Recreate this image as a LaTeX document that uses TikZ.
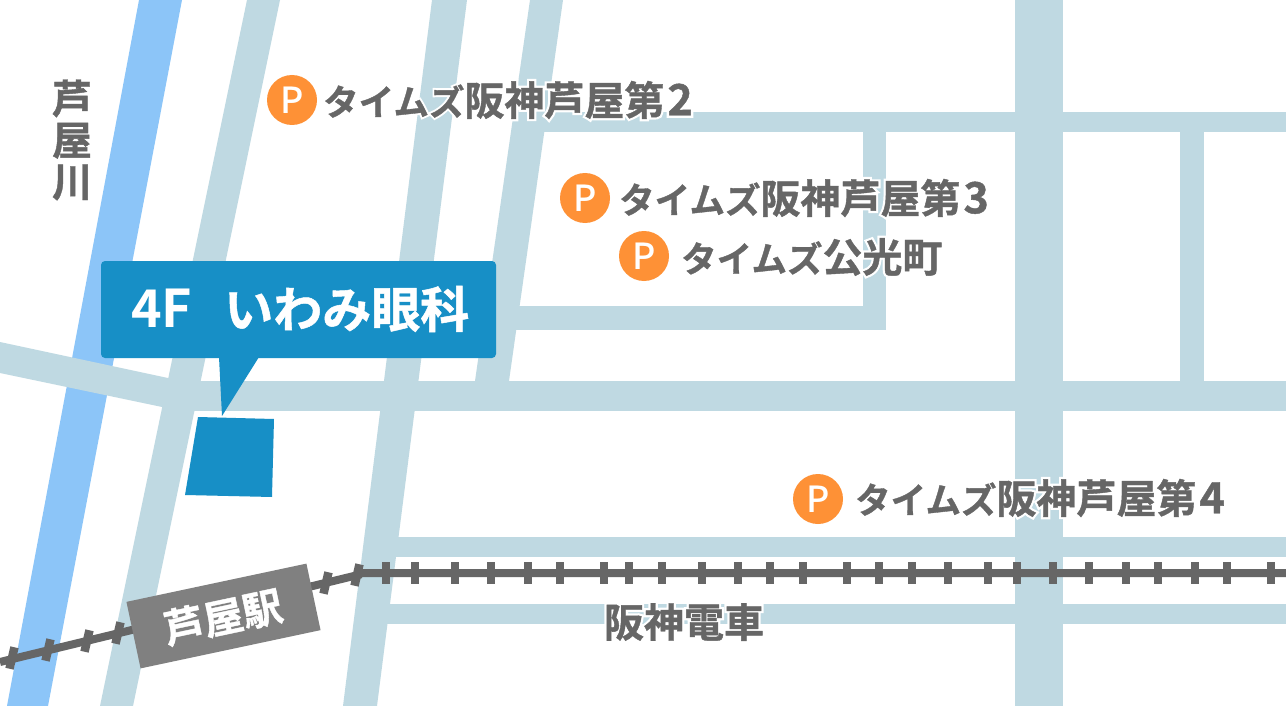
\documentclass[tikz,border=0pt]{standalone}
\usepackage{fontspec}
\newfontfamily\cjk[FakeBold=1]{Noto Sans CJK JP Bold}
\newfontfamily\cjkhalo[FakeBold=12]{Noto Sans CJK JP Bold}
\newfontfamily\cjkplain{Noto Sans CJK JP Bold}
\newfontfamily\cjkthin{Noto Sans CJK JP Medium}
\definecolor{roadcol}{HTML}{BFD9E2}
\definecolor{rivercol}{HTML}{8CC5F8}
\definecolor{clinic}{HTML}{178FC6}
\definecolor{parkcol}{HTML}{FE9136}
\definecolor{inkcol}{HTML}{666666}
\definecolor{stationcol}{HTML}{808080}
\tikzset{
	road/.style={fill=roadcol,draw=none},
	tie/.style={inkcol,line width=8.5pt},
	park/.style={circle,fill=parkcol,text=white,inner sep=0,outer sep=0,minimum size=50pt,font=\cjkthin\fontsize{36}{36}\selectfont},
	parktext/.style={text=inkcol,inner sep=0,anchor=west,font=\cjk\fontsize{40}{40}\selectfont},
	parkhalo/.style={text=white,inner sep=0,anchor=west,font=\cjkhalo\fontsize{40}{40}\selectfont},
}
\newcommand{\kana}{{\fontsize{35.5}{36}\selectfont タイムズ}}
\newcommand{\hanshin}[1]{\kana 阪神芦屋第\hspace{3pt}{\fontsize{43}{43}\selectfont #1}}
\begin{document}
\begin{tikzpicture}[x=1pt,y=-1pt]
	\useasboundingbox (0,0) rectangle (1286,706);
	\fill[white] (0,0) rectangle (1286,706);
	\fill[rivercol] (139,0) -- (182,0) -- (48,706) -- (7,706) -- cycle;
	\fill[road] (0,342) -- (180,380.6) -- (175,409.7) -- (0,373) -- cycle;
	\fill[road] (247,0) -- (280,0) -- (133,706) -- (100,706) -- cycle;
	\fill[road] (432,0) -- (467,0) -- (377,706) -- (343,706) -- cycle;
	\fill[road] (530,0) -- (563,0) -- (509,381) -- (475,381) -- cycle;
	\fill[road] (175,381) rectangle (1286,411);
	\fill[road] (535,112) rectangle (1286,132);
	\fill[road] (510,306) rectangle (886,330);
	\fill[road] (863,132) rectangle (886,330);
	\fill[road] (1015,0) rectangle (1063,706);
	\fill[road] (1180,132) rectangle (1204,381);
	\fill[road] (390,537) rectangle (1286,557);
	\fill[road] (380,604) rectangle (1286,624);
	\fill[clinic] (198,417) -- (274,419) -- (272,497) -- (185,495) -- cycle;
	\node[fill=clinic,rounded corners=4pt,inner sep=0,minimum width=395pt,minimum height=97pt] (callout) at (298.5,309.5) {};
	\fill[clinic] (219,357) -- (259,357) -- (222,416) -- cycle;
	\node[text=white,inner sep=0,anchor=west,font=\cjk\fontsize{49}{49}\selectfont] (clinicname) at (131,309) {{\cjkplain\fontsize{52}{52}\selectfont 4F}\hspace{32pt}いわみ眼科};
	\coordinate (railleft) at (0,662);
	\coordinate (railbend) at (358,575);
	\coordinate (railright) at (1286,573);
	\draw[inkcol,line width=8pt] (railleft) -- (railbend) -- (358,573) -- (railright);
	\foreach \x/\y in {12/658,48/650,87/641,118/633,326/583,357/575}
		\draw[tie,rotate around={-13:(\x,\y)}] (\x,\y-11) -- (\x,\y+11);
	\foreach \x in {386,415,455,491,528,560,604,629,662,702,738,770,803,847,879,912,948,988,1017,1053,1089,1126,1158,1195,1227,1271}
		\draw[tie] (\x,562) -- (\x,584);
	\node[fill=stationcol,rotate=12,inner sep=0,minimum width=184pt,minimum height=68pt] (station) at (223.5,616) {};
	\node[text=white,rotate=12,inner sep=0,font=\cjk\fontsize{40}{40}\selectfont] (stationname) at (223,617) {芦屋駅};
	\node[text=inkcol,inner sep=0,align=center,font=\cjk\fontsize{40}{41.5}\selectfont] (river) at (72,140) {芦\\屋\\川};
	\node[park] (p2) at (292,100) {P};
	\node[park] (p3) at (585,198) {P};
	\node[park] (p4) at (644,256) {P};
	\node[park] (p5) at (818,499) {P};
	\node[parkhalo] (h2) at (323,100) {\hanshin{2}};
	\node[parkhalo] (h3) at (619,198) {\hanshin{3}};
	\node[parkhalo] (h4) at (681,257) {\kana 公光町};
	\node[parkhalo] (h5) at (855,498) {\hanshin{4}};
	\node[parkhalo,anchor=center] (h6) at (684,622) {阪神電車};
	\node[parktext] (t2) at (323,100) {\hanshin{2}};
	\node[parktext] (t3) at (619,198) {\hanshin{3}};
	\node[parktext] (t4) at (681,257) {\kana 公光町};
	\node[parktext] (t5) at (855,498) {\hanshin{4}};
	\node[parktext,anchor=center] (t6) at (684,622) {阪神電車};
\end{tikzpicture}
\end{document}
